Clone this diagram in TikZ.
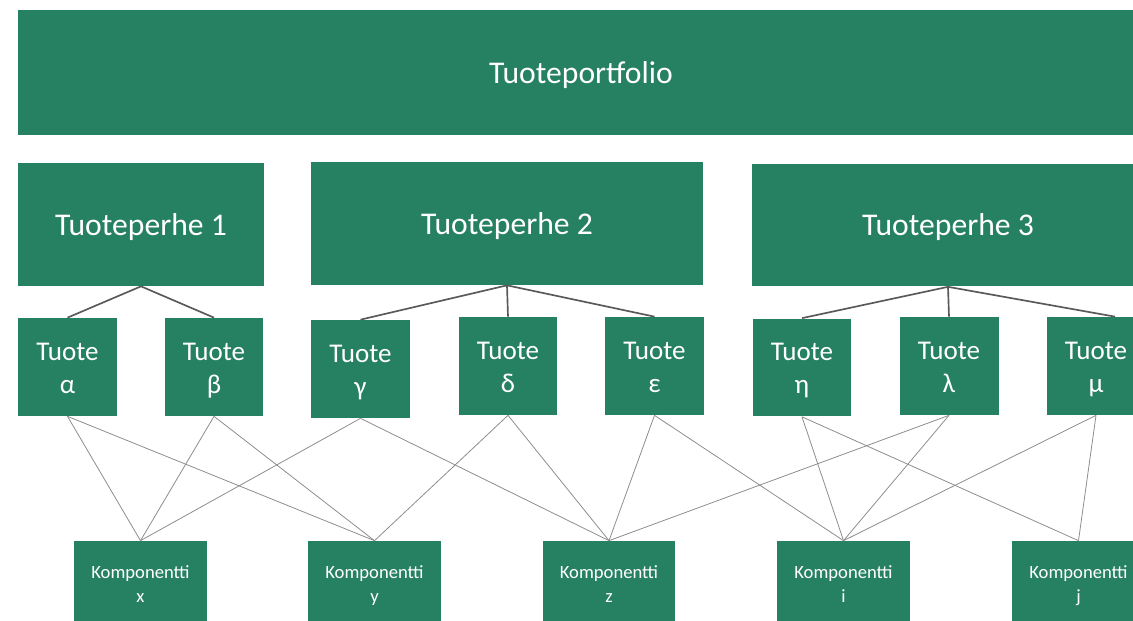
\documentclass[tikz,border=0pt]{standalone}
\usepackage{fontspec}
\setmainfont{Carlito}
\usepackage{xcolor}
\usepackage{tikz}
\usetikzlibrary{positioning}
\definecolor{tuotegreen}{RGB}{38,128,98}
\definecolor{linkgray}{RGB}{89,89,89}
\definecolor{thingray}{RGB}{140,140,140}
\newcommand{\upstrut}[1]{\rule{0pt}{\dimexpr0.7\baselineskip+#1\relax}}
\newcommand{\tuotetxt}[1]{\upstrut{3.4pt}Tuote\\\strut #1}
\newcommand{\komptxt}[1]{\upstrut{3pt}Komponentti\\\strut #1}

\begin{document}
\begin{tikzpicture}[x=0.02cm, y=-0.02cm,
    main/.style = {fill=tuotegreen, text=white, inner sep=0pt, align=center},
    top/.style = {main, font=\fontsize{18}{22}\selectfont, execute at begin node=\upstrut{3.4pt}, execute at end node=\strut},
    tuote/.style = {main, minimum width=1.98cm, minimum height=1.96cm, font=\fontsize{15.4}{18.8}\selectfont},
    komp/.style = {main, minimum width=2.66cm, minimum height=1.68cm, font=\fontsize{10.6}{13.7}\selectfont},
    link/.style = {linkgray, line width=0.95pt},
    thin/.style = {thingray, line width=0.45pt}]
        \useasboundingbox (0,0) rectangle (1133,621);

        \node[top, minimum width=22.52cm, minimum height=2.5cm] (1) at (581,72.5) {Tuoteportfolio};

        \node[top, minimum width=4.92cm, minimum height=2.46cm] (2) at (141,224.5) {Tuoteperhe 1};
        \node[top, minimum width=7.84cm, minimum height=2.46cm] (3) at (507,223.5) {Tuoteperhe 2};
        \node[top, minimum width=7.84cm, minimum height=2.46cm] (4) at (948,225) {Tuoteperhe 3};

        \node[tuote] (5) at (67.5,367) {\tuotetxt{α}};
        \node[tuote] (6) at (214,367) {\tuotetxt{β}};
        \node[tuote] (7) at (360.5,369) {\tuotetxt{γ}};
        \node[tuote] (8) at (508,366) {\tuotetxt{δ}};
        \node[tuote] (9) at (654.5,366) {\tuotetxt{ε}};
        \node[tuote] (10) at (802,367.5) {\tuotetxt{η}};
        \node[tuote] (11) at (949,366) {\tuotetxt{λ}};
        \node[tuote] (12) at (1096,366) {\tuotetxt{μ}};

        \node[komp] (13) at (140.5,583) {\komptxt{x}};
        \node[komp] (14) at (374.5,583) {\komptxt{y}};
        \node[komp] (15) at (609,583) {\komptxt{z}};
        \node[komp] (16) at (843.5,583) {\komptxt{i}};
        \node[komp] (17) at (1078.5,583) {\komptxt{j}};

        \draw [link] (2.south) -- (5.north);
        \draw [link] (2.south) -- (6.north);
        \draw [link] (3.south) -- (7.north);
        \draw [link] (3.south) -- (8.north);
        \draw [link] (3.south) -- (9.north);
        \draw [link] (4.south) -- (10.north);
        \draw [link] (4.south) -- (11.north);
        \draw [link] (4.south) -- ([xshift=0.38cm]12.north);

        \draw [thin] (5.south) -- (13.north);
        \draw [thin] (5.south) -- (14.north);
        \draw [thin] (6.south) -- (13.north);
        \draw [thin] (6.south) -- (14.north);
        \draw [thin] (7.south) -- (13.north);
        \draw [thin] (7.south) -- (15.north);
        \draw [thin] (8.south) -- (14.north);
        \draw [thin] (8.south) -- (15.north);
        \draw [thin] (9.south) -- (15.north);
        \draw [thin] (9.south) -- (16.north);
        \draw [thin] (10.south) -- (16.north);
        \draw [thin] (10.south) -- (17.north);
        \draw [thin] (11.south) -- (15.north);
        \draw [thin] (11.south) -- (16.north);
        \draw [thin] (12.south) -- (16.north);
        \draw [thin] (12.south) -- (17.north);
    \end{tikzpicture}
\end{document}
